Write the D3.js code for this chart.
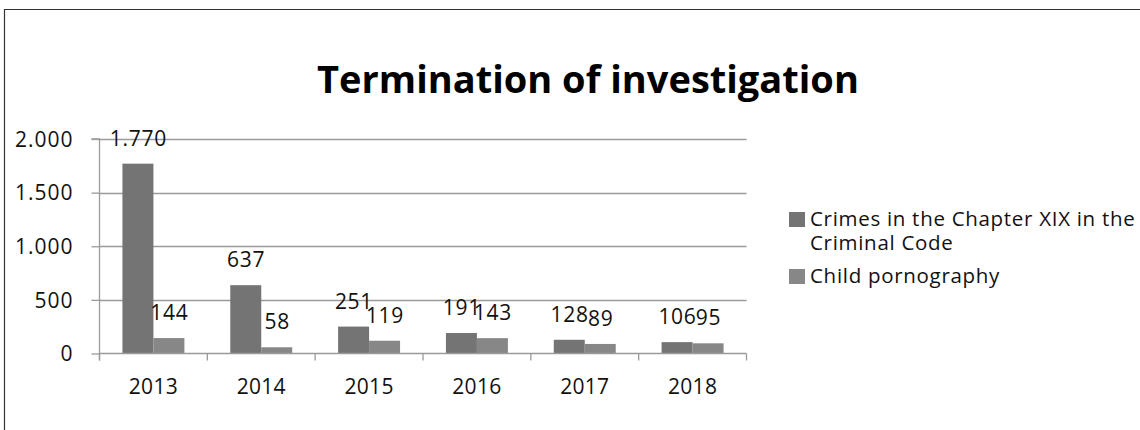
<!DOCTYPE html>
<html>
<head>
<meta charset="utf-8">
<script src="https://cdn.jsdelivr.net/npm/d3@7"></script>
<style>
  html, body { margin: 0; padding: 0; background: #fff; }
  svg { display: block; font-family: "Open Sans", Lato, sans-serif; }
</style>
</head>
<body>
<svg id="chart" width="1140" height="430"></svg>
<script>
const title = "Termination of investigation";
const categories = ["2013", "2014", "2015", "2016", "2017", "2018"];
const seriesNames = ["Crimes in the Chapter XIX in the Criminal Code", "Child pornography"];
const legendLines = [["Crimes in the Chapter XIX in the", "Criminal Code"], ["Child pornography"]];
const crimesChapterXIX = [1770, 637, 251, 191, 128, 106];
const childPornography = [144, 58, 119, 143, 89, 95];
const yTicks = [0, 500, 1000, 1500, 2000];
const seriesColors = ["#747474", "#878787"];

const FONT = "'Open Sans', Lato, sans-serif";
const svg = d3.select("#chart");
const fmt = v => d3.format(",")(v).replace(/,/g, ".");

// frame
svg.append("path")
  .attr("d", "M4.5,430 V9.5 H1140")
  .attr("fill", "none").attr("stroke", "#333").attr("stroke-width", 1.2);

// title
svg.append("text")
  .attr("x", 588).attr("y", 92.5)
  .attr("text-anchor", "middle")
  .attr("font-size", 38).attr("font-weight", "bold").attr("fill", "#000")
  .text(title);

const pLeft = 99.5, pRight = 746.5, pTop = 139, pBottom = 353.5;

const x = d3.scaleBand().domain(categories).range([pLeft, pRight]).padding(0);
const xs = d3.scaleBand().domain([0, 1]).range([0, x.bandwidth()]).paddingInner(0).paddingOuter(0.74);
const y = d3.scaleLinear().domain([0, 2000]).range([pBottom, pTop]);

const axisColor = "#9a9a9a";

// gridlines
svg.append("g").selectAll("line").data(yTicks.filter(t => t > 0)).join("line")
  .attr("x1", pLeft).attr("x2", pRight)
  .attr("y1", d => Math.round(y(d)) + 0.5).attr("y2", d => Math.round(y(d)) + 0.5)
  .attr("stroke", axisColor).attr("stroke-width", 1.3);

// y axis
const yAxis = d3.axisLeft(y).tickValues(yTicks).tickSize(8).tickPadding(18).tickFormat(fmt);
const gy = svg.append("g").attr("transform", `translate(${pLeft},0)`).call(yAxis);
gy.select(".domain").attr("stroke", axisColor).attr("stroke-width", 1.3)
  .attr("d", `M-8,${pTop}H0V${pBottom + 7}`);
gy.selectAll(".tick line").attr("stroke", axisColor).attr("stroke-width", 1.3);
gy.selectAll(".tick text").attr("font-size", 21).attr("fill", "#111")
  .attr("letter-spacing", 1.0).attr("dy", "0.34em")
  .attr("font-family", FONT);

// bars
const data = [crimesChapterXIX, childPornography];
const groups = svg.append("g").selectAll("g").data(categories).join("g")
  .attr("transform", d => `translate(${x(d)},0)`);
groups.selectAll("rect").data((d, i) => data.map((s, k) => ({ k, v: s[i] }))).join("rect")
  .attr("x", d => xs(d.k)).attr("width", xs.bandwidth())
  .attr("y", d => y(d.v)).attr("height", d => y(0) - y(d.v))
  .attr("fill", d => seriesColors[d.k]);
groups.selectAll("text").data((d, i) => data.map((s, k) => ({ k, v: s[i] }))).join("text")
  .attr("x", d => xs(d.k) + xs.bandwidth() / 2 + 0.4)
  .attr("y", d => y(d.v) - 18)
  .attr("text-anchor", "middle").attr("font-size", 21).attr("fill", "#111")
  .attr("letter-spacing", 0.7)
  .text(d => fmt(d.v));

// x axis
const xAxis = d3.axisBottom(x).tickSize(0).tickPadding(26);
const gx = svg.append("g").attr("transform", `translate(0,${pBottom})`).call(xAxis);
gx.select(".domain").attr("stroke", axisColor).attr("stroke-width", 1.3)
  .attr("d", `M${pLeft},0H${pRight}`);
gx.selectAll(".tick text").attr("font-size", 21).attr("fill", "#111")
  .attr("letter-spacing", 0.3)
  .attr("font-family", FONT);
svg.append("g").selectAll("line").data(categories.map(c => x(c)).concat([pRight])).join("line")
  .attr("x1", d => d).attr("x2", d => d)
  .attr("y1", pBottom).attr("y2", pBottom + 7)
  .attr("stroke", axisColor).attr("stroke-width", 1.3);

// legend
const legend = svg.append("g");
const legendY = [212, 269];
legendLines.forEach((lines, k) => {
  legend.append("rect").attr("x", 789).attr("y", legendY[k]).attr("width", 16).attr("height", 15)
    .attr("fill", seriesColors[k]);
  lines.forEach((ln, j) => {
    legend.append("text").attr("x", 810).attr("y", legendY[k] + 14 + j * 24)
      .attr("font-size", 20.5).attr("fill", "#111").attr("letter-spacing", 0.7).text(ln);
  });
});
</script>
</body>
</html>
